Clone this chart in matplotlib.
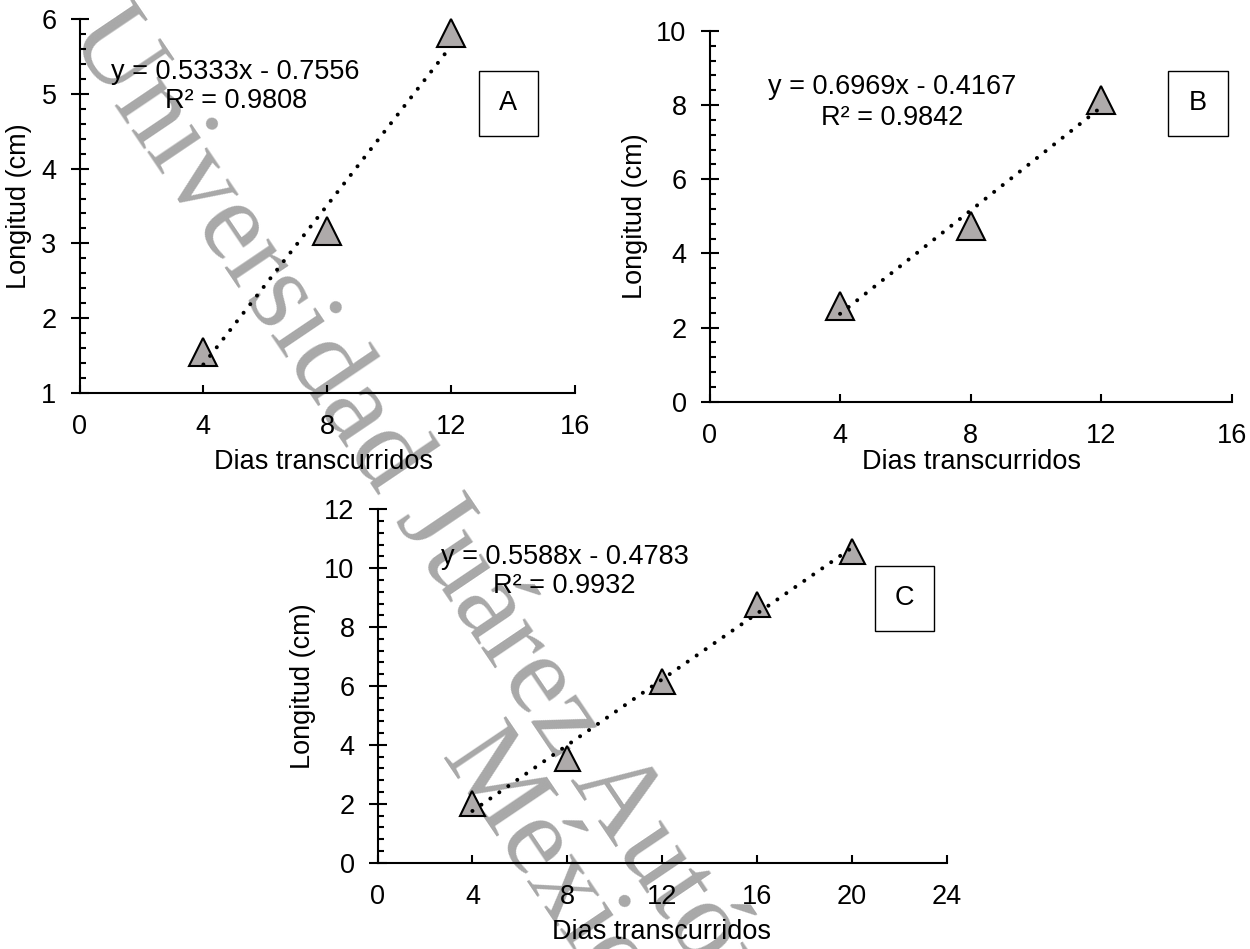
import matplotlib
matplotlib.use("Agg")
import matplotlib.pyplot as plt
import numpy as np
from matplotlib.patches import Rectangle
from matplotlib.ticker import MultipleLocator

# growth data for the three treatments
DAYS_A = [4, 8, 12]
LEN_A = [1.55, 3.17, 5.82]
DAYS_B = [4, 8, 12]
LEN_B = [2.58, 4.75, 8.15]
DAYS_C = [4, 8, 12, 16, 20]
LEN_C = [2.02, 3.57, 6.18, 8.77, 10.59]

# linear trendlines reported on each panel
SLOPES = [0.5333, 0.6969, 0.5588]
INTERCEPTS = [-0.7556, -0.4167, -0.4783]
R2 = [0.9808, 0.9842, 0.9932]
PANEL_NAMES = ["A", "B", "C"]

X_LABEL = "Dias transcurridos"
Y_LABEL = "Longitud (cm)"
WATERMARK = ["Universidad Juárez Autónoma", "México"]

W, H = 1250, 949
FS = 19.5
MARKER_FILL = "#AEAAAA"

plt.rcParams["font.family"] = ["Liberation Sans", "DejaVu Sans"]


def fx(x):
	return x / W


def fy(y):
	return 1 - y / H


def make_axes(fig, left, top, right, bottom):
	ax = fig.add_axes([fx(left), fy(bottom), (right - left) / W, (bottom - top) / H])
	ax.set_facecolor("none")
	return ax


def style_axes(ax, xmax, ymin, ymax, ystep, yminor):
	ax.set_xlim(0, xmax)
	ax.set_ylim(ymin, ymax)
	ax.spines[["top", "right"]].set_visible(False)
	for side in ("left", "bottom"):
		ax.spines[side].set_linewidth(1.5)
	ax.xaxis.set_major_locator(MultipleLocator(4))
	ax.yaxis.set_major_locator(MultipleLocator(ystep))
	ax.yaxis.set_minor_locator(MultipleLocator(yminor))
	ax.tick_params(axis="x", which="major", direction="in", length=6, width=1.5, pad=15.5, labelsize=FS)
	ax.tick_params(axis="x", which="minor", bottom=False)
	ax.tick_params(axis="y", which="major", direction="inout", length=13, width=1.5, pad=10, labelsize=FS)
	ax.tick_params(axis="y", which="minor", direction="in", length=4, width=1.5)


def draw_panel(fig, ax, days, lengths, idx, ms, ylab_xy, xlab_xy, eq_pos, box):
	m, b = SLOPES[idx], INTERCEPTS[idx]
	ax.plot(days, lengths, linestyle="none", marker="^", ms=ms, mfc=MARKER_FILL,
			mec="black", mew=1.5, zorder=3, clip_on=False)
	# dotted linear trendline over the sampled range
	xs = np.array([min(days), max(days)], dtype=float)
	ax.plot(xs, m * xs + b, color="black", lw=2.9, linestyle=(0, (0.01, 2.7)),
			dash_capstyle="round", zorder=4, clip_on=False)

	ax.set_ylabel(Y_LABEL, fontsize=FS, va="center")
	ax.yaxis.set_label_coords(fx(ylab_xy[0]), fy(ylab_xy[1]), transform=fig.transFigure)
	ax.set_xlabel(X_LABEL, fontsize=FS, va="center")
	ax.xaxis.set_label_coords(fx(xlab_xy[0]), fy(xlab_xy[1]), transform=fig.transFigure)

	sign = "-" if b < 0 else "+"
	(x1, y1), (x2, y2) = eq_pos
	fig.text(fx(x1), fy(y1), f"y = {m:.4f}x {sign} {abs(b):.4f}", ha="center", va="baseline", fontsize=FS)
	fig.text(fx(x2), fy(y2), f"R² = {R2[idx]:.4f}", ha="center", va="baseline", fontsize=FS)

	left, top, right, bottom = box
	fig.add_artist(Rectangle((fx(left), fy(bottom)), (right - left) / W, (bottom - top) / H,
							 transform=fig.transFigure, facecolor="white", edgecolor="black", lw=1))
	fig.text(fx((left + right) / 2), fy((top + bottom) / 2), PANEL_NAMES[idx],
			 ha="center", va="center", fontsize=FS)


fig = plt.figure(figsize=(W / 100, H / 100), dpi=100)

# watermark behind the panels
fig.text(fx(67), fy(34), WATERMARK[0], rotation=-56, rotation_mode="anchor", ha="left", va="baseline",
		 fontsize=82, family="Liberation Serif", color="#A8A8A8", zorder=-1)
fig.text(fx(440), fy(757), WATERMARK[1], rotation=-56, rotation_mode="anchor", ha="left", va="baseline",
		 fontsize=82, family="Liberation Serif", color="#A8A8A8", zorder=-1)

ax_a = make_axes(fig, 79.5, 19.3, 575, 392.7)
style_axes(ax_a, 16, 1, 6, 1, 0.2)
draw_panel(fig, ax_a, DAYS_A, LEN_A, 0, 19.5, (19.5, 206), (324, 462),
		   ((235, 79), (236, 108)), (479, 71, 538, 136))

ax_b = make_axes(fig, 709.5, 31, 1231.8, 401.7)
style_axes(ax_b, 16, 0, 10, 2, 0.4)
draw_panel(fig, ax_b, DAYS_B, LEN_B, 1, 19.5, (635, 216), (971, 462),
		   ((892, 94), (892, 125)), (1168, 71, 1228, 136))

ax_c = make_axes(fig, 377.5, 509.3, 947, 862.7)
style_axes(ax_c, 24, 0, 12, 2, 0.4)
draw_panel(fig, ax_c, DAYS_C, LEN_C, 2, 18, (303, 686), (662, 932),
		   ((565, 564), (564, 593)), (874.6, 565.7, 933.6, 630.7))

fig.savefig("out.png", dpi=100)
